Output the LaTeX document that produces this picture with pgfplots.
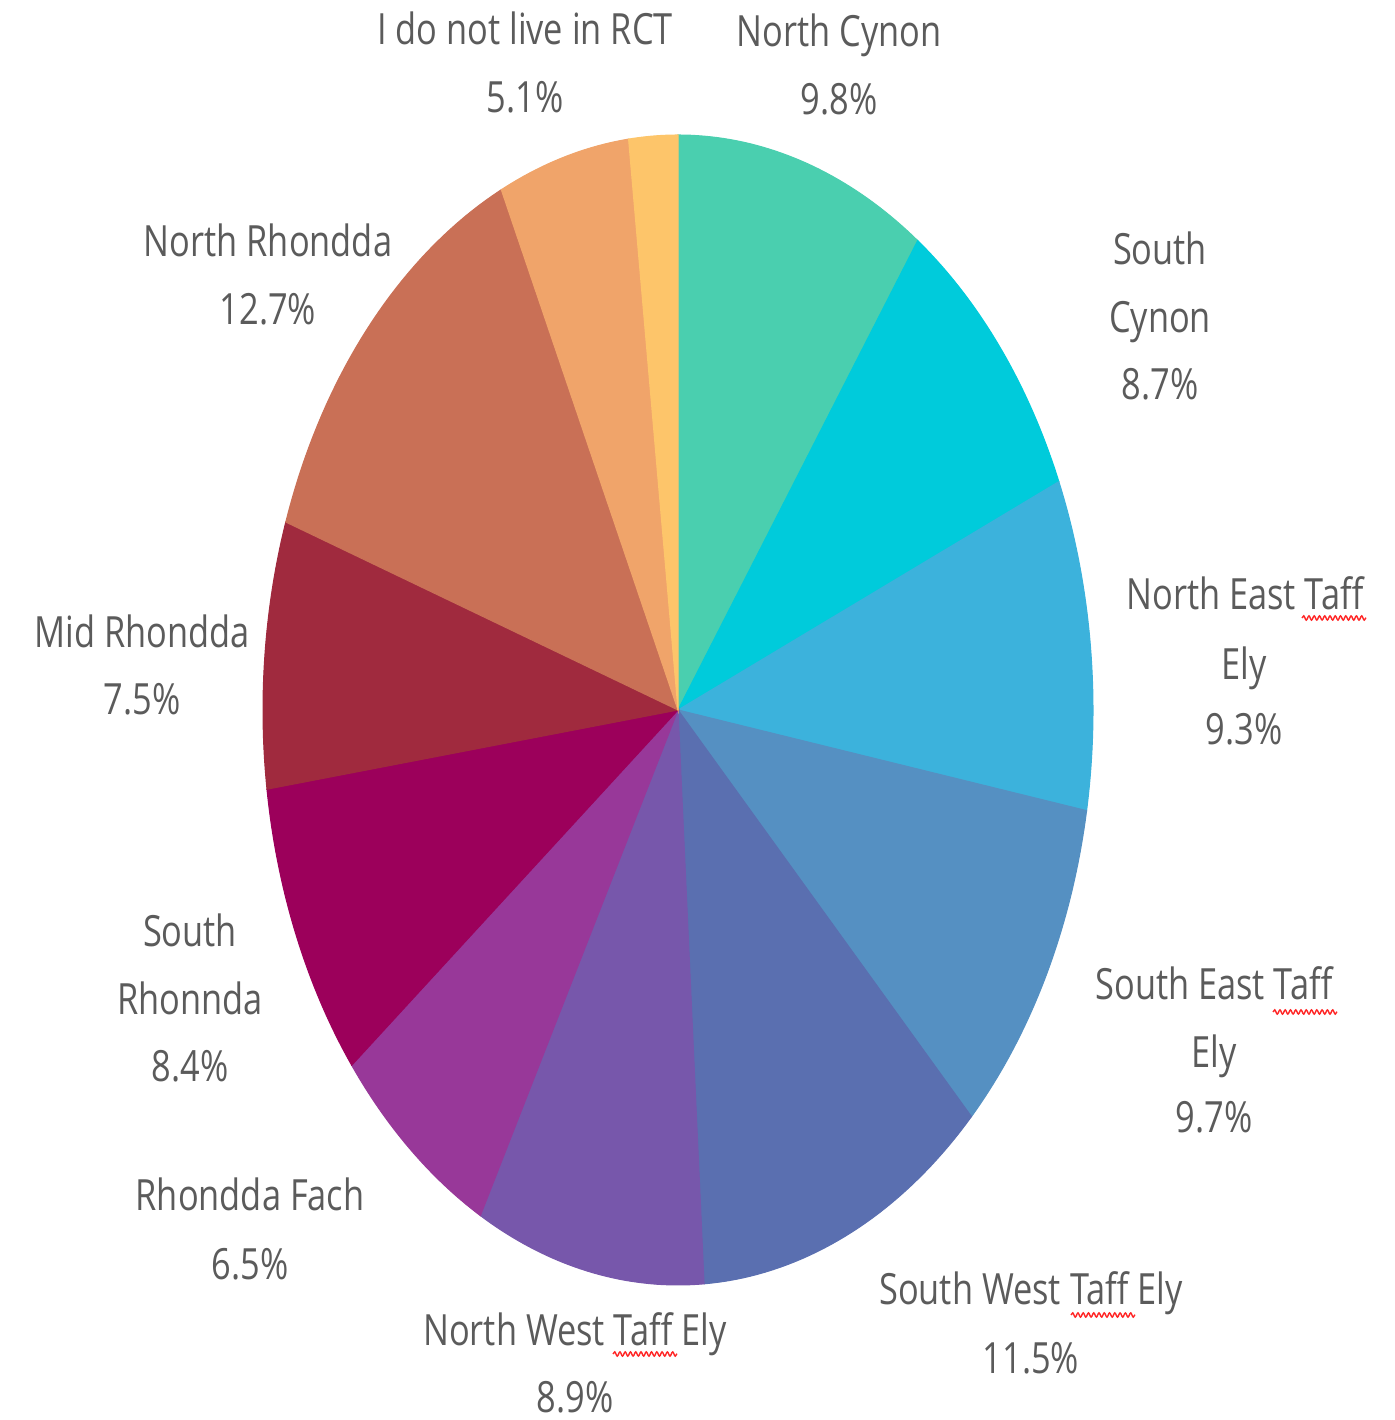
\documentclass[border=0pt]{standalone}
\usepackage{pgfplots}
\pgfplotsset{compat=1.18}
\usepackage{fontspec}
\setmainfont{Open Sans}
\usetikzlibrary{decorations.pathmorphing}
\definecolor{cNC}{HTML}{4ACFAF}
\definecolor{cSC}{HTML}{00CBDB}
\definecolor{cNE}{HTML}{3CB2DC}
\definecolor{cSE}{HTML}{5590C2}
\definecolor{cSW}{HTML}{5A6FB0}
\definecolor{cNW}{HTML}{7757AB}
\definecolor{cRF}{HTML}{983899}
\definecolor{cSR}{HTML}{9C005B}
\definecolor{cMR}{HTML}{A02A3E}
\definecolor{cNR}{HTML}{C97056}
\definecolor{cNL}{HTML}{F0A46A}
\definecolor{cYL}{HTML}{FDC56A}
\definecolor{txt}{HTML}{5B5B5B}
\newcommand{\lab}[3]{\node[anchor=base,inner sep=0pt,text=txt,font=\fontsize{12}{14}\selectfont] at (axis cs:#1,{1420-#2}) {\scalebox{0.815}[1.02]{#3}};}
\newcommand{\wavy}[3]{\draw[red!85!white,line width=0.4pt,decorate,decoration={snake,amplitude=0.6pt,segment length=1.5pt}] (axis cs:#1,{1420-#3}) -- (axis cs:#2,{1420-#3});}
\begin{document}
\begin{tikzpicture}
\begin{axis}[
  width=13.94cm, height=14.2cm, scale only axis,
  xmin=0, xmax=1394, ymin=0, ymax=1420,
  hide axis, clip=false,
]
\path[draw=none] (axis cs:0,0) rectangle (axis cs:1394,1420);
% percentages (clockwise from top): 9.8, 8.7, 9.3, 9.7, 11.5, 8.9, 6.5, 8.4, 7.5, 12.7, 5.1, 1.9
% slice k spans angles 90-3.6*cum_k .. 90-3.6*cum_{k-1}
\addplot[fill=cNC, draw=cNC, line width=0.3pt, domain=54.72:90, samples=40, variable=\t] ({678+415*cos(t)},{710+575*sin(t)}) -- (axis cs:678,710) -- cycle;
\addplot[fill=cSC, draw=cSC, line width=0.3pt, domain=23.4:54.72, samples=40, variable=\t] ({678+415*cos(t)},{710+575*sin(t)}) -- (axis cs:678,710) -- cycle;
\addplot[fill=cNE, draw=cNE, line width=0.3pt, domain=-10.08:23.4, samples=40, variable=\t] ({678+415*cos(t)},{710+575*sin(t)}) -- (axis cs:678,710) -- cycle;
\addplot[fill=cSE, draw=cSE, line width=0.3pt, domain=-45:-10.08, samples=40, variable=\t] ({678+415*cos(t)},{710+575*sin(t)}) -- (axis cs:678,710) -- cycle;
\addplot[fill=cSW, draw=cSW, line width=0.3pt, domain=-86.4:-45, samples=40, variable=\t] ({678+415*cos(t)},{710+575*sin(t)}) -- (axis cs:678,710) -- cycle;
\addplot[fill=cNW, draw=cNW, line width=0.3pt, domain=-118.44:-86.4, samples=40, variable=\t] ({678+415*cos(t)},{710+575*sin(t)}) -- (axis cs:678,710) -- cycle;
\addplot[fill=cRF, draw=cRF, line width=0.3pt, domain=-141.84:-118.44, samples=40, variable=\t] ({678+415*cos(t)},{710+575*sin(t)}) -- (axis cs:678,710) -- cycle;
\addplot[fill=cSR, draw=cSR, line width=0.3pt, domain=-172.08:-141.84, samples=40, variable=\t] ({678+415*cos(t)},{710+575*sin(t)}) -- (axis cs:678,710) -- cycle;
\addplot[fill=cMR, draw=cMR, line width=0.3pt, domain=-199.08:-172.08, samples=40, variable=\t] ({678+415*cos(t)},{710+575*sin(t)}) -- (axis cs:678,710) -- cycle;
\addplot[fill=cNR, draw=cNR, line width=0.3pt, domain=-244.8:-199.08, samples=40, variable=\t] ({678+415*cos(t)},{710+575*sin(t)}) -- (axis cs:678,710) -- cycle;
\addplot[fill=cNL, draw=cNL, line width=0.3pt, domain=-263.16:-244.8, samples=40, variable=\t] ({678+415*cos(t)},{710+575*sin(t)}) -- (axis cs:678,710) -- cycle;
\addplot[fill=cYL, draw=cYL, line width=0.3pt, domain=-270:-263.16, samples=20, variable=\t] ({678+415*cos(t)},{710+575*sin(t)}) -- (axis cs:678,710) -- cycle;
% labels
\lab{525}{45}{I do not live in RCT}
\lab{525}{113}{5.1\%}
\lab{839}{47}{North Cynon}
\lab{839}{115}{9.8\%}
\lab{1160}{265}{South}
\lab{1160}{333}{Cynon}
\lab{1160}{400}{8.7\%}
\lab{1245}{610}{North East Taff}
\lab{1244}{680}{Ely}
\lab{1244}{745}{9.3\%}
\lab{1214}{1000}{South East Taff}
\lab{1214}{1068}{Ely}
\lab{1214}{1133}{9.7\%}
\lab{1031}{1305}{South West Taff Ely}
\lab{1031}{1373}{11.5\%}
\lab{575}{1345}{North West Taff Ely}
\lab{575}{1412}{8.9\%}
\lab{250}{1210}{Rhondda Fach}
\lab{250}{1280}{6.5\%}
\lab{190}{947}{South}
\lab{190}{1015}{Rhonnda}
\lab{190}{1082}{8.4\%}
\lab{142}{648}{Mid Rhondda}
\lab{142}{715}{7.5\%}
\lab{268}{257}{North Rhondda}
\lab{268}{325}{12.7\%}
\wavy{1302}{1366}{618}
\wavy{1273}{1337}{1012}
\wavy{1071}{1135}{1315}
\wavy{613}{677}{1354}
\end{axis}
\end{tikzpicture}
\end{document}
